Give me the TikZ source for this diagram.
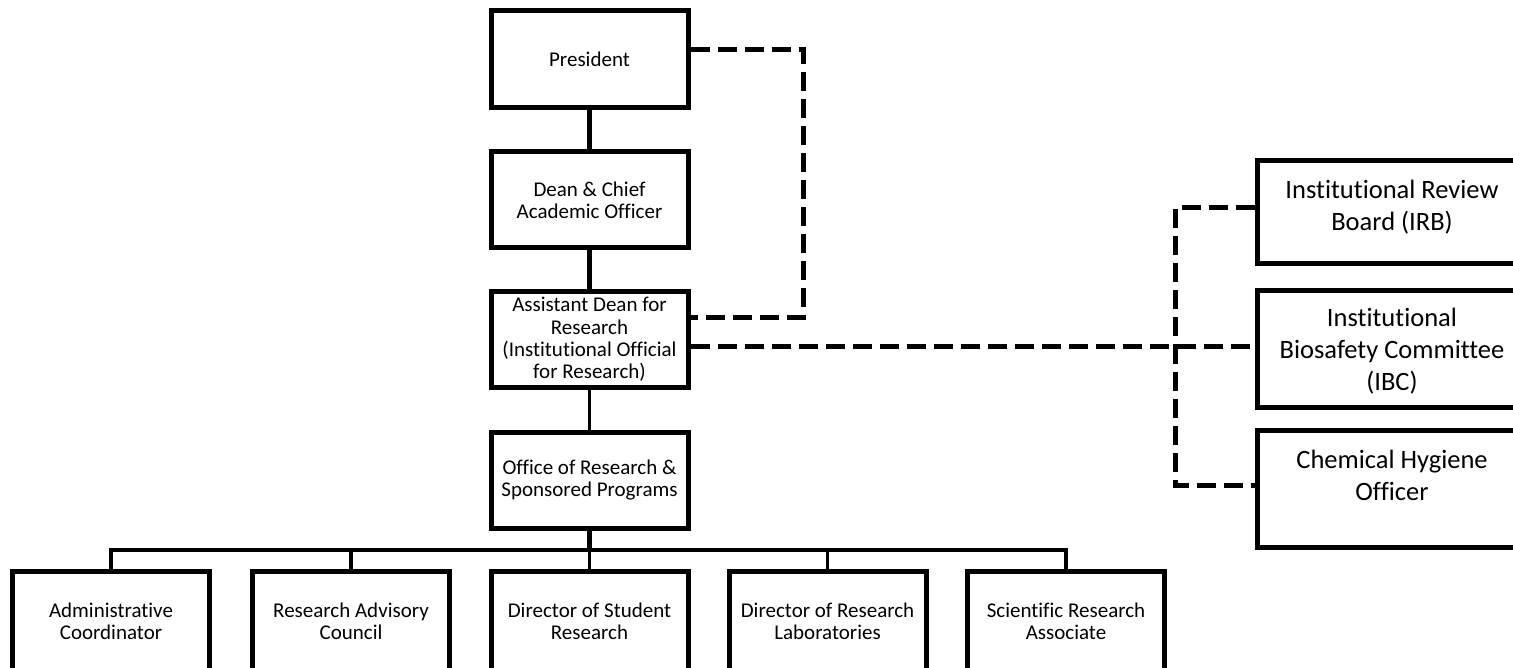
\documentclass[tikz,border=0pt]{standalone}
\usepackage{fontspec}
\setmainfont{Carlito}[Ligatures=NoCommon]
\begin{document}
\begin{tikzpicture}[x=1pt, y=-1pt,
  box/.style={shape=rectangle, draw=black, line width=5pt, minimum width=197pt, minimum height=97pt, inner sep=0pt, align=center, font=\fontsize{21}{22.4}\selectfont},
  sidebox/.style={shape=rectangle, draw=black, line width=5pt, minimum width=270pt, inner sep=0pt},
  sidetext/.style={align=center, inner sep=0pt, font=\fontsize{26.5}{32}\selectfont},
  link/.style={-, draw=black, line width=5pt},
  buslink/.style={-, draw=black, line width=3.5pt},
  dashlink/.style={-, draw=black, line width=5pt, dash pattern=on 19pt off 8pt}]
\useasboundingbox (0,0) rectangle (1513,668);
\clip (0,0) rectangle (1513,668);
% main line
\node[box] (president) at (589.5,59.5) {President};
\node[box, minimum height=96pt] (dean) at (589.5,200) {Dean \& Chief\\Academic Officer};
\node[box, minimum height=95pt] (assistant) at (589.5,339.5) {Assistant Dean for\\Research\\(Institutional Official\\for Research)};
\node[box, minimum height=96pt] (office) at (589.5,480) {Office of Research \&\\Sponsored Programs};
% staff row
\node[box, minimum height=100pt] (admin) at (111,621) {Administrative\\Coordinator};
\node[box, minimum height=100pt] (advisory) at (351,621) {Research Advisory\\Council};
\node[box, minimum height=100pt] (student) at (589.5,621) {Director of Student\\Research};
\node[box, minimum height=100pt] (labs) at (827.5,621) {Director of Research\\Laboratories};
\node[box, minimum height=100pt] (scientist) at (1066,621) {Scientific Research\\Associate};
% committees
\node[sidebox, minimum height=103pt] (irb) at (1392,212.5) {};
\node[sidebox, minimum height=116pt] (ibc) at (1392,349) {};
\node[sidebox, minimum height=117pt] (cho) at (1392,488.5) {};
\node[sidetext] (irbtext) at (1392,207) {Institutional Review\\Board (IRB)};
\node[sidetext] (ibctext) at (1392,351) {Institutional\\Biosafety Committee\\(IBC)};
\node[sidetext] (chotext) at (1392,475) {Chemical Hygiene\\Officer};
% turning points
\coordinate (bus) at (589.5,550);
\coordinate (toptop) at (803,50);
\coordinate (topbottom) at (803,318);
\coordinate (ibcrow) at (1175,347);
\coordinate (irbturn) at (1175,208);
\coordinate (choturn) at (1175,485);
\path [link] (president) edge (dean);
\path [link] (dean) edge (assistant);
\path [-, draw=black, line width=2.5pt] (assistant) edge (office);
\path [link] (office) edge (bus);
\foreach \staff in {admin, advisory, student, labs, scientist}
  \draw [buslink] (bus) -| (\staff.north);
\draw [dashlink] (president.east |- toptop) -- (toptop) -- (topbottom) -- (assistant.east |- topbottom);
\draw [dashlink] (assistant.east |- ibcrow) -- (ibc.west |- ibcrow);
\draw [dashlink] (irb.west |- irbturn) -- (irbturn) -- (choturn) -- (cho.west |- choturn);
\end{tikzpicture}
\end{document}
